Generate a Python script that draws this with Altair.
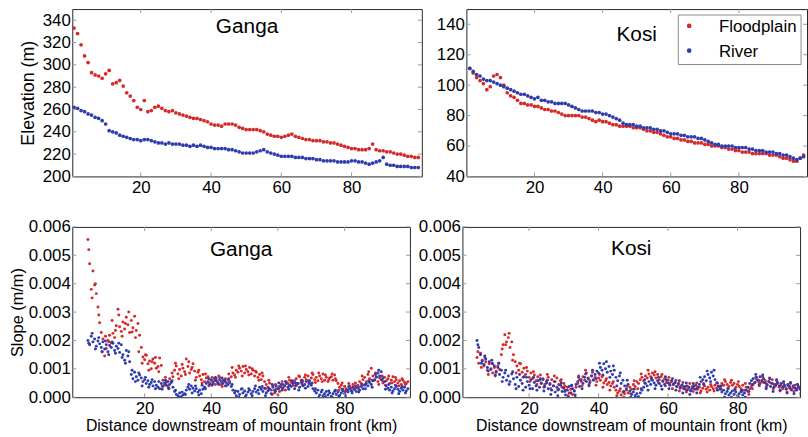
import altair as alt
import pandas as pd

FONT = "Liberation Sans"
RED = "#d42a2a"
BLUE = "#2f3cae"
FRAME = "#262626"
TICK = "#9a9a9a"

series_names = ["Floodplain", "River"]

# ---- Elevation (m), sampled every 1 km starting at km 1 ----
elev_start_km = 1
elev_step_km = 1
ganga_flood_elev = [333, 328, 318, 308, 302, 293, 291, 290, 288, 292,
                    295, 283, 284, 286, 281, 275, 272, 268, 262, 260,
                    268, 258, 259, 262, 263, 261, 259, 258, 259, 257,
                    256, 255, 254, 253, 252, 252, 251, 250, 249, 247,
                    246, 246, 245, 247, 247, 247, 246, 244, 243, 242,
                    242, 242, 242, 241, 240, 238, 237, 236, 236, 235,
                    236, 237, 238, 236, 235, 234, 233, 233, 232, 232,
                    232, 231, 231, 230, 230, 229, 228, 227, 226, 225,
                    225, 224, 224, 224, 225, 229, 224, 223, 223, 222,
                    222, 221, 220, 220, 219, 218, 218, 217, 217]
ganga_river_elev = [262, 261, 259, 258, 256, 255, 253, 252, 250, 247,
                    241, 240, 239, 237, 236, 235, 234, 233, 233, 232,
                    233, 233, 232, 231, 230, 230, 229, 230, 229, 229,
                    229, 228, 228, 227, 228, 227, 228, 227, 226, 226,
                    225, 225, 225, 225, 224, 224, 223, 222, 221, 221,
                    221, 221, 222, 223, 224, 222, 221, 220, 219, 218,
                    218, 218, 218, 217, 217, 217, 216, 216, 216, 215,
                    215, 214, 214, 214, 214, 213, 213, 213, 213, 214,
                    214, 213, 213, 212, 211, 212, 213, 214, 217, 211,
                    210, 210, 209, 209, 209, 209, 208, 208, 208]
kosi_flood_elev = [111, 108, 105, 103, 101, 97, 99, 106, 107, 105,
                   100, 95, 93, 92, 90, 88, 88, 87, 87, 86,
                   86, 85, 84, 84, 83, 83, 82, 81, 80, 80,
                   80, 80, 80, 79, 79, 78, 77, 76, 77, 76,
                   76, 75, 74, 74, 73, 73, 73, 73, 72, 72,
                   72, 71, 70, 70, 69, 69, 68, 67, 66, 66,
                   65, 65, 64, 64, 63, 63, 62, 62, 62, 61,
                   61, 60, 60, 60, 59, 59, 58, 58, 57, 57,
                   56, 56, 56, 55, 55, 55, 55, 55, 54, 54,
                   54, 53, 52, 52, 51, 50, 50, 52, 54]
kosi_river_elev = [111, 109, 107, 106, 104, 103, 103, 102, 101, 100,
                   99, 98, 97, 96, 95, 94, 94, 93, 92, 91,
                   92, 90, 90, 89, 89, 88, 88, 88, 88, 87,
                   86, 85, 84, 83, 83, 83, 83, 82, 82, 81,
                   81, 80, 79, 78, 77, 75, 74, 74, 74, 73,
                   73, 72, 72, 72, 71, 71, 70, 70, 69, 68,
                   68, 68, 67, 67, 66, 66, 66, 65, 65, 64,
                   63, 62, 61, 61, 60, 60, 60, 60, 59, 59,
                   59, 59, 58, 58, 57, 57, 57, 56, 56, 56,
                   55, 55, 54, 54, 53, 52, 51, 52, 53]

# ---- Slope (m/m) in units of 1e-5 ----
slope_unit = 1e-5
# pass A: every 0.5 km
slope_step_a = 0.5
ganga_start_a = 3.0
ganga_flood_slope_a = [556, 470, 380, 445, 395, 365, 318, 262, 228, 205,
                       145, 172, 200, 218, 192, 225, 210, 252, 310, 248,
                       232, 265, 240, 282, 255, 228, 270, 245, 285, 235,
                       260, 218, 175, 142, 132, 148, 118, 128, 100, 135,
                       120, 102, 108, 138, 112, 60, 45, 52, 38, 65,
                       55, 72, 95, 110, 82, 98, 75, 102, 90, 135,
                       108, 85, 98, 118, 92, 70, 88, 75, 62, 80,
                       55, 68, 72, 50, 62, 48, 58, 65, 52, 70,
                       45, 60, 55, 40, 62, 50, 72, 85, 78, 95,
                       88, 102, 92, 108, 85, 98, 90, 105, 82, 95,
                       75, 88, 70, 80, 62, 75, 55, 45, 35, 50,
                       25, 40, 15, 30, 8, 20, 35, 45, 40, 55,
                       48, 60, 52, 42, 58, 65, 48, 72, 60, 55,
                       70, 62, 75, 58, 68, 80, 62, 70, 58, 75,
                       65, 82, 60, 70, 55, 68, 72, 60, 78, 58,
                       48, 35, 42, 28, 38, 30, 25, 40, 32, 45,
                       28, 35, 42, 55, 48, 62, 70, 55, 80, 65,
                       102, 75, 60, 72, 55, 68, 62, 50, 70, 58,
                       65, 48, 60, 72, 55, 62, 50, 58, 45, 60,
                       52, 48, 55]
ganga_river_slope_a = [200, 185, 215, 195, 205, 180, 198, 188, 175, 195,
                       170, 185, 160, 182, 175, 190, 165, 180, 172, 158,
                       185, 150, 130, 165, 145, 125, 80, 65, 88, 72,
                       60, 78, 68, 55, 62, 48, 58, 45, 52, 40,
                       55, 42, 35, 30, 48, 38, 50, 42, 55, 45,
                       52, 35, 20, 10, 5, 15, 2, 8, 12, 25,
                       35, 28, 40, 32, 22, 30, 18, 25, 12, 28,
                       35, 48, 55, 45, 60, 52, 65, 58, 50, 62,
                       55, 48, 60, 52, 45, 55, 38, 25, 15, 5,
                       20, 10, 28, 15, 22, 8, 18, 25, 12, 20,
                       30, 18, 25, 35, 28, 20, 32, 15, 22, 28,
                       12, 35, 25, 40, 30, 38, 45, 32, 40, 48,
                       35, 42, 38, 50, 30, 42, 48, 35, 52, 40,
                       45, 55, 38, 48, 42, 30, 22, 15, 25, 8,
                       18, 5, 12, 20, 8, 15, 3, 12, 20, 10,
                       18, 6, 15, 22, 12, 25, 18, 30, 22, 35,
                       28, 20, 32, 25, 38, 30, 42, 48, 40, 52,
                       45, 58, 62, 70, 85, 75, 90, 68, 55, 40,
                       32, 25, 35, 22, 30, 38, 28, 20, 32, 25,
                       35, 22, 30]
kosi_start_a = 5.0
kosi_flood_slope_a = [140, 120, 155, 130, 110, 125, 95, 118, 100, 85,
                      105, 92, 110, 98, 150, 185, 220, 195, 210, 175,
                      195, 150, 125, 110, 95, 118, 88, 102, 80, 92,
                      70, 85, 65, 78, 58, 72, 60, 50, 65, 45,
                      55, 70, 48, 62, 40, 55, 68, 45, 58, 35,
                      48, 25, 35, 15, 28, 10, 22, 35, 48, 62,
                      55, 72, 60, 85, 68, 58, 75, 62, 70, 55,
                      68, 60, 72, 50, 58, 45, 52, 40, 48, 35,
                      25, 15, 22, 8, 18, 12, 25, 15, 35, 28,
                      45, 38, 55, 48, 62, 70, 58, 75, 68, 82,
                      72, 85, 78, 68, 80, 62, 72, 58, 65, 52,
                      60, 48, 55, 45, 50, 38, 45, 32, 42, 35,
                      28, 40, 32, 25, 38, 30, 42, 28, 35, 22,
                      32, 40, 28, 35, 25, 38, 30, 42, 32, 40,
                      35, 48, 42, 55, 45, 38, 52, 42, 48, 35,
                      45, 38, 30, 42, 25, 35, 20, 30, 38, 45,
                      52, 62, 55, 48, 60, 52, 58, 45, 55, 50,
                      62, 45, 40, 48, 35, 42, 30, 38, 28, 40,
                      32, 25, 35, 42, 30, 38, 28, 35, 25]
kosi_river_slope_a = [200, 175, 150, 128, 115, 135, 105, 125, 98, 118,
                      110, 88, 105, 80, 95, 70, 85, 60, 75, 55,
                      82, 65, 45, 70, 38, 60, 48, 72, 35, 55,
                      42, 62, 30, 52, 40, 58, 35, 48, 62, 38,
                      50, 30, 45, 25, 40, 18, 35, 28, 42, 20,
                      32, 8, 25, 38, 15, 30, 22, 45, 55, 38,
                      62, 48, 70, 55, 65, 52, 75, 60, 80, 92,
                      85, 105, 95, 118, 100, 88, 108, 92, 80, 95,
                      70, 58, 75, 48, 60, 40, 30, 45, 22, 10,
                      18, 5, 12, 2, 15, 25, 35, 48, 40, 55,
                      45, 60, 50, 42, 58, 48, 40, 55, 45, 62,
                      50, 42, 58, 45, 52, 38, 48, 35, 42, 30,
                      38, 25, 35, 22, 32, 40, 28, 35, 45, 55,
                      62, 72, 58, 80, 68, 88, 75, 62, 50, 38,
                      28, 18, 25, 12, 20, 8, 15, 22, 10, 18,
                      5, 12, 20, 8, 15, 25, 35, 48, 58, 65,
                      52, 70, 60, 72, 55, 65, 50, 42, 55, 38,
                      48, 35, 45, 52, 40, 48, 35, 42, 30, 45,
                      38, 28, 40, 32, 25, 35, 30, 22, 28]
# pass B: every 1 km, offset by a quarter km (spread of the scatter cloud)
slope_step_b = 1.0
ganga_start_b = 3.25
ganga_flood_slope_b = [520, 350, 400, 290, 160, 215, 195, 270, 235, 290,
                       215, 260, 300, 230, 210, 160, 120, 150, 95, 125,
                       140, 90, 40, 70, 30, 85, 120, 65, 115, 80,
                       125, 105, 60, 95, 50, 82, 40, 70, 45, 75,
                       38, 65, 82, 105, 70, 110, 75, 110, 78, 100,
                       92, 60, 85, 30, 60, 10, 45, 30, 55, 25,
                       70, 55, 40, 75, 45, 78, 48, 85, 52, 85,
                       55, 78, 62, 82, 65, 25, 50, 20, 48, 22,
                       50, 35, 75, 45, 90, 60, 85, 45, 75, 42,
                       75, 50, 70, 40, 65, 45]
ganga_river_slope_b = [190, 225, 170, 210, 160, 198, 150, 195, 155, 190,
                       140, 120, 160, 95, 55, 85, 40, 70, 35, 62,
                       30, 55, 28, 60, 32, 58, 25, 0, 18, 10,
                       45, 15, 40, 8, 42, 30, 65, 42, 70, 45,
                       68, 40, 65, 45, 22, 0, 30, 2, 30, 5,
                       40, 12, 38, 5, 32, 45, 20, 50, 25, 55,
                       28, 58, 50, 25, 60, 32, 58, 50, 30, 0,
                       25, 2, 22, 0, 25, 2, 28, 5, 38, 15,
                       40, 18, 45, 30, 58, 35, 80, 95, 60, 28,
                       45, 15, 42, 12, 38, 15]
kosi_start_b = 5.25
kosi_flood_slope_b = [160, 105, 140, 80, 120, 75, 120, 170, 185, 225,
                      130, 85, 120, 70, 105, 55, 90, 45, 78, 35,
                      80, 30, 75, 25, 62, 40, 5, 40, 0, 75,
                      40, 95, 45, 88, 42, 80, 35, 65, 25, 55,
                      5, 30, 0, 40, 12, 58, 30, 82, 50, 95,
                      62, 90, 50, 80, 40, 70, 30, 60, 22, 52,
                      18, 48, 20, 50, 15, 48, 18, 45, 22, 50,
                      28, 62, 30, 60, 25, 55, 20, 48, 10, 30,
                      70, 40, 72, 35, 68, 30, 58, 22, 50, 18,
                      48, 20, 45, 15]
kosi_river_slope_b = [185, 120, 145, 92, 130, 78, 120, 55, 95, 45,
                      90, 30, 80, 25, 70, 30, 70, 25, 65, 22,
                      60, 10, 55, 5, 50, 20, 0, 42, 8, 70,
                      30, 82, 40, 95, 65, 120, 78, 125, 70, 110,
                      40, 85, 20, 60, 0, 28, 0, 30, 62, 25,
                      68, 30, 70, 28, 72, 30, 65, 25, 58, 15,
                      50, 10, 48, 15, 70, 45, 92, 55, 95, 25,
                      40, 0, 30, 0, 28, 0, 25, 0, 20, 45,
                      80, 45, 78, 30, 65, 20, 62, 25, 55, 15,
                      52, 12, 45, 10]

# ---- Axis tick values ----
x_ticks = [20, 40, 60, 80]
ganga_elev_ticks = [200, 220, 240, 260, 280, 300, 320, 340]
kosi_elev_ticks = [40, 60, 80, 100, 120, 140]
slope_ticks = [0.0, 0.001, 0.002, 0.003, 0.004, 0.005, 0.006]


def series_frame(values, start, step, name, unit=1.0):
    return pd.DataFrame({
        "km": [start + step * i for i in range(len(values))],
        "val": [v * unit for v in values],
        "series": name,
    })


ganga_elev_df = pd.concat([
    series_frame(ganga_flood_elev, elev_start_km, elev_step_km, "Floodplain"),
    series_frame(ganga_river_elev, elev_start_km, elev_step_km, "River"),
], ignore_index=True)
kosi_elev_df = pd.concat([
    series_frame(kosi_flood_elev, elev_start_km, elev_step_km, "Floodplain"),
    series_frame(kosi_river_elev, elev_start_km, elev_step_km, "River"),
], ignore_index=True)
ganga_slope_df = pd.concat([
    series_frame(ganga_flood_slope_a, ganga_start_a, slope_step_a, "Floodplain", slope_unit),
    series_frame(ganga_flood_slope_b, ganga_start_b, slope_step_b, "Floodplain", slope_unit),
    series_frame(ganga_river_slope_a, ganga_start_a, slope_step_a, "River", slope_unit),
    series_frame(ganga_river_slope_b, ganga_start_b, slope_step_b, "River", slope_unit),
], ignore_index=True)
kosi_slope_df = pd.concat([
    series_frame(kosi_flood_slope_a, kosi_start_a, slope_step_a, "Floodplain", slope_unit),
    series_frame(kosi_flood_slope_b, kosi_start_b, slope_step_b, "Floodplain", slope_unit),
    series_frame(kosi_river_slope_a, kosi_start_a, slope_step_a, "River", slope_unit),
    series_frame(kosi_river_slope_b, kosi_start_b, slope_step_b, "River", slope_unit),
], ignore_index=True)

color = alt.Color("series:N",
                  scale=alt.Scale(domain=series_names, range=[RED, BLUE]),
                  legend=None)


def legend_layers(left, top, width, height, row_gap):
    """A boxed legend drawn inside a panel (matplotlib style)."""
    box = alt.Chart(pd.DataFrame({"b": [0]})).mark_rect(
        fill="white", stroke="#8a8a8a", strokeWidth=1
    ).encode(x=alt.value(left), x2=alt.value(left + width),
             y=alt.value(top), y2=alt.value(top + height))
    layers = [box]
    for i, name in enumerate(series_names):
        row = pd.DataFrame({"series": [name]})
        cy = top + 11 + i * row_gap
        layers.append(alt.Chart(row).mark_circle(size=22, opacity=1).encode(
            x=alt.value(left + 11), y=alt.value(cy), color=color))
        layers.append(alt.Chart(row).mark_text(
            font=FONT, fontSize=17, color="black", align="left", baseline="middle"
        ).encode(x=alt.value(left + 41), y=alt.value(cy + 1), text="series:N"))
    return layers


def panel(df, xdom, ydom, yticks, w, h, name, name_y, yfmt,
          ytitle=None, ytitle_size=17, ytitle_pad=4, xtitle=None, point_size=10,
          extra=None):
    xs = alt.Scale(domain=xdom, nice=False, zero=False)
    ys = alt.Scale(domain=ydom, nice=False, zero=False)
    x_axis = alt.Axis(values=x_ticks, title=xtitle, format="d",
                      titleFontSize=16, titlePadding=2, labelPadding=3)
    y_axis = alt.Axis(values=yticks, title=ytitle, format=yfmt,
                      titleFontSize=ytitle_size, titlePadding=ytitle_pad,
                      labelPadding=2)
    pts = alt.Chart(df).mark_circle(size=point_size, opacity=1, clip=True).encode(
        x=alt.X("km:Q", scale=xs, axis=x_axis),
        y=alt.Y("val:Q", scale=ys, axis=y_axis),
        color=color,
    )
    xt = pd.DataFrame({"t": x_ticks})
    yt = pd.DataFrame({"t": yticks})
    tick_x = alt.X("t:Q", scale=xs, axis=x_axis)
    tick_y = alt.Y("t:Q", scale=ys, axis=y_axis)
    top_ticks = alt.Chart(xt).mark_rule(color=TICK).encode(
        x=tick_x, y=alt.value(0), y2=alt.value(4))
    bot_ticks = alt.Chart(xt).mark_rule(color=TICK).encode(
        x=tick_x, y=alt.value(h - 4), y2=alt.value(h))
    left_ticks = alt.Chart(yt).mark_rule(color=TICK).encode(
        y=tick_y, x=alt.value(0), x2=alt.value(4))
    right_ticks = alt.Chart(yt).mark_rule(color=TICK).encode(
        y=tick_y, x=alt.value(w - 4), x2=alt.value(w))
    label = alt.Chart(pd.DataFrame({"name": [name]})).mark_text(
        font=FONT, fontSize=21, color="black", align="center", baseline="middle"
    ).encode(text="name:N", x=alt.value(w / 2), y=alt.value(name_y))
    layers = [pts, top_ticks, bot_ticks, left_ticks, right_ticks, label]
    if extra:
        layers += extra
    return alt.layer(*layers).properties(width=w, height=h)


tl = panel(ganga_elev_df, [0.5, 100], [200, 350], ganga_elev_ticks, 353, 169,
           "Ganga", 18, "d", ytitle="Elevation (m)", ytitle_size=18, ytitle_pad=5,
           point_size=14)
tr = panel(kosi_elev_df, [0, 100], [40, 150], kosi_elev_ticks, 344, 169,
           "Kosi", 26, "d", point_size=14,
           extra=legend_layers(214, 6, 124, 50, 25))
bl = panel(ganga_slope_df, [-1.7, 99.6], [0, 0.006], slope_ticks, 341, 172,
           "Ganga", 23, ".3f", ytitle="Slope (m/m)", ytitle_size=16.5, ytitle_pad=3,
           xtitle="Distance downstream of mountain front (km)", point_size=9)
br = panel(kosi_slope_df, [0.8, 98.0], [0, 0.006], slope_ticks, 341, 172,
           "Kosi", 22, ".3f",
           xtitle="Distance downstream of mountain front (km)", point_size=9)

top = alt.hconcat(tl, tr, spacing=13)
bottom = alt.hconcat(bl, br, spacing=6)

chart = alt.vconcat(top, bottom, spacing=21).properties(
    padding={"left": 8, "top": 6, "right": 0, "bottom": 0},
    background="white",
).configure_view(
    stroke=FRAME, strokeWidth=1
).configure_axis(
    labelFont=FONT, labelFontSize=17, labelColor="black",
    titleFont=FONT, titleColor="black", titleFontWeight="normal",
    ticks=False, domain=False, grid=False,
)

chart.save("out.html", embed_options={"renderer": "svg", "actions": False})
